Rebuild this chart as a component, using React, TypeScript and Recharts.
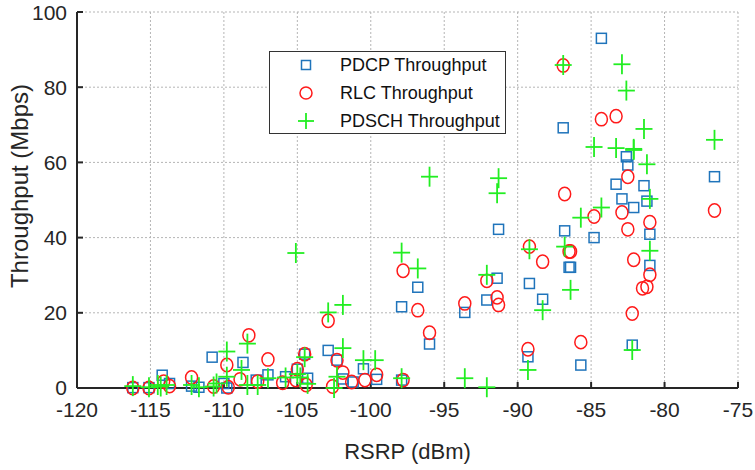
import { ScatterChart, Scatter, XAxis, YAxis, CartesianGrid } from 'recharts'

// [RSRP dBm, throughput Mbps]
const pdcpPoints: [number, number][] = [
  [-116.2, 0.1], [-115.1, 0.1], [-114.2, 3.4], [-113.7, 1.2], [-112.2, 0.5], [-111.7, 0.2],
  [-110.8, 8.2], [-110.0, 1.2], [-109.8, 0.0], [-108.7, 6.8], [-107.8, 2.1], [-107.0, 3.5],
  [-105.8, 3.0], [-105.0, 5.0], [-104.5, 9.0], [-104.3, 2.6], [-102.9, 10.0], [-102.3, 7.4],
  [-101.9, 2.4], [-101.2, 1.6], [-100.5, 5.1], [-99.6, 2.3], [-97.9, 21.6], [-97.9, 2.1],
  [-96.8, 26.8], [-96.0, 11.7], [-93.6, 20.1], [-92.1, 23.4], [-91.4, 29.2], [-91.3, 42.2],
  [-89.3, 8.3], [-89.2, 27.8], [-88.3, 23.6], [-86.9, 69.2], [-86.8, 41.8], [-86.5, 32.1],
  [-86.4, 32.1], [-85.7, 6.1], [-84.8, 40.0], [-84.3, 93.0], [-83.3, 54.2], [-82.9, 50.3],
  [-82.6, 61.5], [-82.5, 59.3], [-82.2, 11.4], [-82.1, 48.0], [-81.4, 53.8], [-81.2, 49.7],
  [-81.0, 40.9], [-81.0, 32.6], [-76.6, 56.2],
]

const rlcPoints: [number, number][] = [
  [-116.2, 0], [-115.1, 0], [-114.1, 1.7], [-113.7, 0.5], [-112.2, 2.8], [-110.7, 0.4],
  [-109.8, 6.1], [-109.7, 0.2], [-108.9, 2.3], [-108.3, 14.0], [-107.7, 1.7], [-107.0, 7.6],
  [-106.0, 1.4], [-105.1, 2.1], [-105.0, 5.0], [-104.5, 9.0], [-104.4, 0.8], [-102.9, 17.9],
  [-102.6, 0.4], [-102.3, 7.4], [-101.9, 4.1], [-101.3, 1.6], [-100.4, 2.1], [-99.6, 3.5],
  [-97.8, 31.2], [-97.8, 2.1], [-96.8, 20.7], [-96.0, 14.7], [-93.6, 22.5], [-92.1, 28.5],
  [-91.4, 24.1], [-91.3, 22.1], [-89.3, 10.3], [-89.2, 37.6], [-88.3, 33.6], [-86.9, 85.8],
  [-86.8, 51.6], [-86.5, 36.3], [-86.4, 36.3], [-85.7, 12.2], [-84.8, 45.6], [-84.3, 71.5],
  [-83.3, 72.3], [-82.9, 46.7], [-82.5, 56.2], [-82.5, 42.2], [-82.2, 19.8], [-82.1, 34.1],
  [-81.5, 26.5], [-81.2, 26.9], [-81.0, 44.1], [-81.0, 30.1], [-76.6, 47.2],
]

const pdschPoints: [number, number][] = [
  [-116.2, 0.5], [-115.1, 0.2], [-114.5, 0.8], [-114.3, 0.4], [-113.9, 0.8], [-112.2, 0.8],
  [-111.7, 0.2], [-110.7, 0.4], [-110.5, 1.2], [-109.8, 9.7], [-109.8, 3.0], [-108.8, 4.8],
  [-108.4, 11.8], [-108.4, 0.8], [-107.7, 0.8], [-107.0, 2.6], [-105.8, 2.8], [-105.1, 35.9],
  [-105.0, 3.7], [-104.8, 2.8], [-104.5, 8.2], [-104.3, 1.1], [-102.9, 20.1], [-102.5, 0],
  [-102.3, 3.0], [-101.9, 22.1], [-101.9, 10.6], [-100.5, 7.4], [-99.7, 7.4], [-97.9, 36.0],
  [-97.9, 2.6], [-96.8, 31.8], [-96.0, 56.2], [-93.6, 2.6], [-92.1, 30.1], [-92.1, 0.2],
  [-91.4, 51.8], [-91.3, 55.8], [-89.3, 4.8], [-89.2, 36.9], [-88.3, 20.7], [-86.9, 85.9],
  [-86.8, 37.6], [-86.4, 26.1], [-85.7, 45.3], [-84.8, 64.1], [-84.3, 48.0], [-83.3, 63.8],
  [-82.9, 86.1], [-82.6, 79.1], [-82.2, 10.1], [-82.1, 63.6], [-82.1, 63.3], [-81.4, 68.9],
  [-81.2, 59.5], [-81.0, 50.3], [-81.0, 36.5], [-76.6, 66.0],
]

const xTicks = [-120, -115, -110, -105, -100, -95, -90, -85, -80, -75]
const yTicks = [0, 20, 40, 60, 80, 100]

const BLUE = '#1f74bb'
const RED = '#ff1a1a'
const GREEN = '#22ee22'
const AXIS = '#262626'
const FONT = '"Liberation Sans", Arial, sans-serif'

const toXY = (pts: [number, number][]) => pts.map(([x, y]) => ({ x, y }))

const Square = ({ cx, cy, s = 10 }: any) => (
  <rect x={cx - s / 2} y={cy - s / 2} width={s} height={s} fill="none" stroke={BLUE} strokeWidth={1.5} />
)
const Ring = ({ cx, cy, rx = 6, ry = 6.7 }: any) => (
  <ellipse cx={cx} cy={cy} rx={rx} ry={ry} fill="none" stroke={RED} strokeWidth={1.5} />
)
const Plus = ({ cx, cy, w = 17, h = 20 }: any) => (
  <g stroke={GREEN} strokeWidth={1.8}>
    <line x1={cx - w / 2} y1={cy} x2={cx + w / 2} y2={cy} />
    <line x1={cx} y1={cy - h / 2} x2={cx} y2={cy + h / 2} />
  </g>
)

const legendItems = [
  { label: 'PDCP Throughput', marker: (cx: number, cy: number) => <Square cx={cx} cy={cy} s={9} /> },
  { label: 'RLC Throughput', marker: (cx: number, cy: number) => <Ring cx={cx} cy={cy} rx={6} ry={6} /> },
  { label: 'PDSCH Throughput', marker: (cx: number, cy: number) => <Plus cx={cx} cy={cy} w={16} h={16} /> },
]

const LegendBox = () => (
  <svg width={237} height={83} style={{ display: 'block' }}>
    <rect x={0.5} y={0.5} width={236} height={82} fill="#fff" stroke="#333" strokeWidth={1} />
    {legendItems.map((it, i) => (
      <g key={it.label}>
        {it.marker(37, 14 + i * 28)}
        <text x={71} y={14 + i * 28} dy="0.36em" fontSize={18} fontFamily={FONT} fill="#111">
          {it.label}
        </text>
      </g>
    ))}
  </svg>
)

const tickStyle = { fontSize: 21, fontFamily: FONT, fill: AXIS }

export default function App() {
  return (
    <div style={{ position: 'absolute', left: 0, top: 0, width: 755, height: 470, background: '#fff' }}>
      <ScatterChart width={755} height={470} margin={{ top: 12, right: 17, bottom: 0, left: 0 }}>
        <CartesianGrid stroke="#b5b5b5" strokeDasharray="2 2" />
        <XAxis
          dataKey="x"
          type="number"
          domain={[-120, -75]}
          ticks={xTicks}
          height={82}
          stroke={AXIS}
          strokeWidth={2}
          tickSize={-6}
          tickMargin={20}
          tick={tickStyle}
          label={({ viewBox }: any) => (
            <text
              x={viewBox.x + viewBox.width / 2}
              y={viewBox.y + 71}
              textAnchor="middle"
              fontSize={22}
              fontFamily={FONT}
              fill={AXIS}
            >
              RSRP (dBm)
            </text>
          )}
        />
        <YAxis
          dataKey="y"
          type="number"
          domain={[0, 100]}
          ticks={yTicks}
          width={77}
          stroke={AXIS}
          strokeWidth={2}
          tickSize={-6}
          tickMargin={16}
          tick={tickStyle}
          label={({ viewBox }: any) => {
            const cx = viewBox.x + 28
            const cy = viewBox.y + viewBox.height / 2 - 14
            return (
              <text
                x={cx}
                y={cy}
                transform={`rotate(-90 ${cx} ${cy})`}
                textAnchor="middle"
                fontSize={24}
                fontFamily={FONT}
                fill={AXIS}
              >
                Throughput (Mbps)
              </text>
            )
          }}
        />
        <XAxis
          xAxisId="top"
          orientation="top"
          type="number"
          domain={[-120, -75]}
          ticks={xTicks}
          height={0}
          stroke={AXIS}
          strokeWidth={2}
          tickSize={-6}
          tick={false}
        />
        <YAxis
          yAxisId="right"
          orientation="right"
          type="number"
          domain={[0, 100]}
          ticks={yTicks}
          width={0}
          stroke={AXIS}
          strokeWidth={2}
          tickSize={-6}
          tick={false}
        />
        <Scatter name="PDCP Throughput" data={toXY(pdcpPoints)} shape={<Square />} isAnimationActive={false} />
        <Scatter name="RLC Throughput" data={toXY(rlcPoints)} shape={<Ring />} isAnimationActive={false} />
        <Scatter name="PDSCH Throughput" data={toXY(pdschPoints)} shape={<Plus />} isAnimationActive={false} />
      </ScatterChart>
      <div style={{ position: 'absolute', left: 269, top: 51 }}>
        <LegendBox />
      </div>
    </div>
  )
}
